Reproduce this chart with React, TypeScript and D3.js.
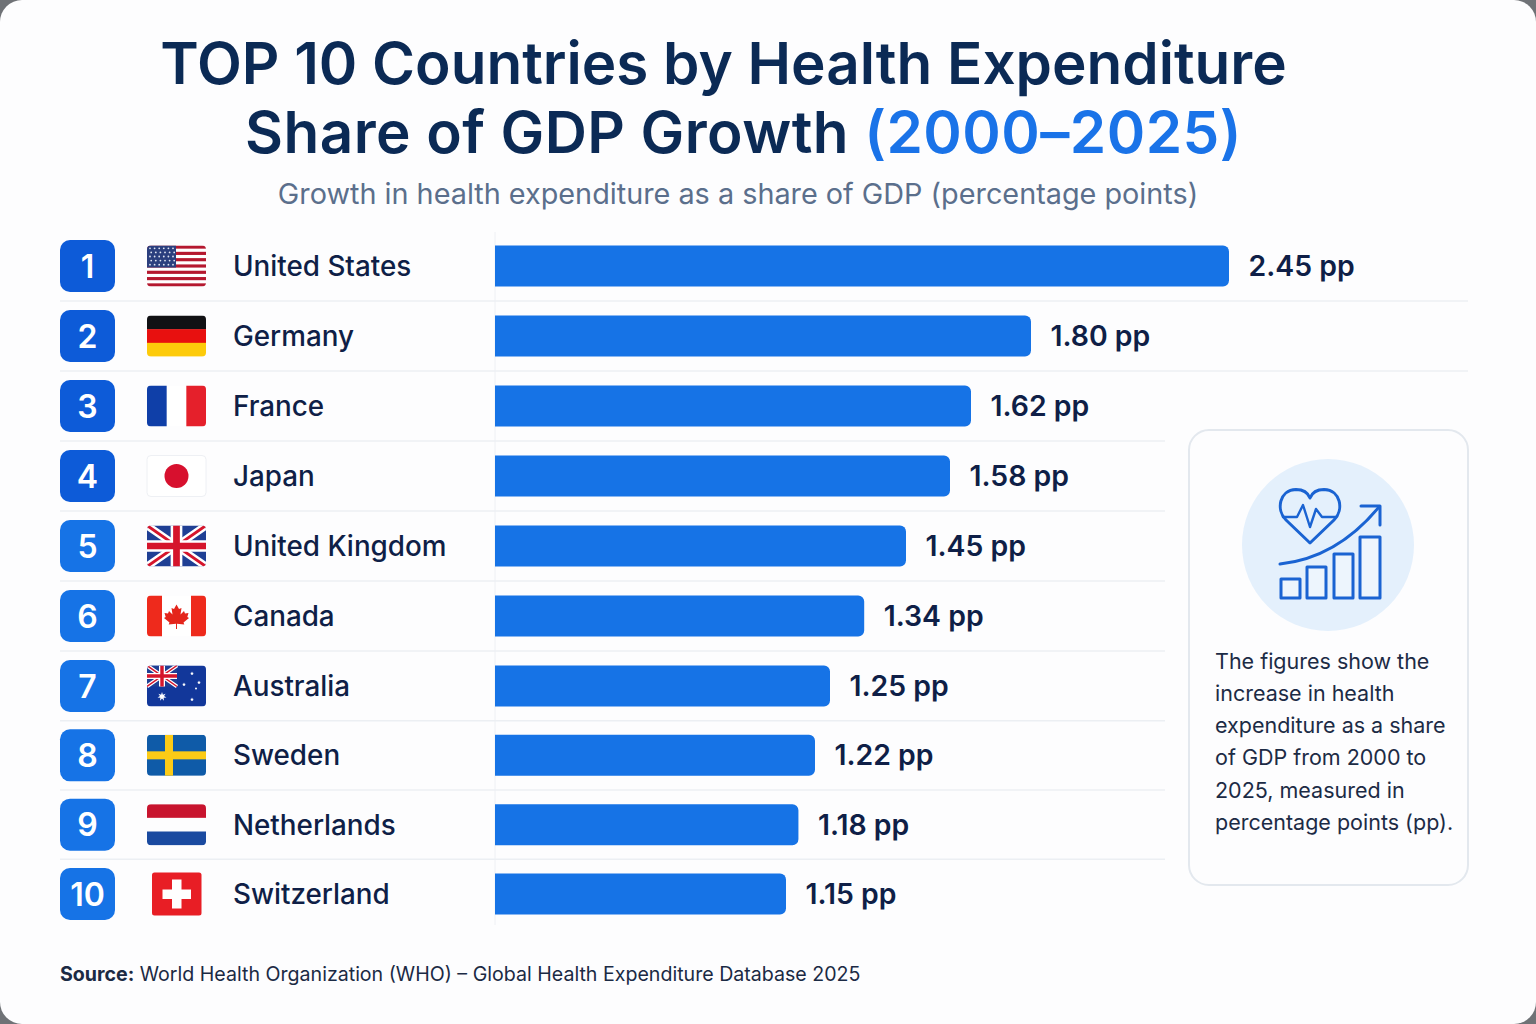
import React from 'react';
import * as d3 from 'd3';

const ranks = [1, 2, 3, 4, 5, 6, 7, 8, 9, 10];
const countries = ['United States', 'Germany', 'France', 'Japan', 'United Kingdom', 'Canada', 'Australia', 'Sweden', 'Netherlands', 'Switzerland'];
const growth = [2.45, 1.8, 1.62, 1.58, 1.45, 1.34, 1.25, 1.22, 1.18, 1.15];
const flagIds = ['us', 'de', 'fr', 'jp', 'uk', 'ca', 'au', 'se', 'nl', 'ch'];
const noteLines = [
  'The figures show the',
  'increase in health',
  'expenditure as a share',
  'of GDP from 2000 to',
  '2025, measured in',
  'percentage points (pp).',
];

const INK = '#0f1f47';
const BLUE = '#1673e6';
const FONT = 'Inter, "Noto Sans", sans-serif';

// the reference bars are not proportional to their labels, so the scale has knots
const x = d3
  .scaleLinear()
  .domain([0, 1.15, 1.22, 1.25, 1.45, 1.58, 1.62, 1.8, 2.45])
  .range([495, 786, 815, 830, 906, 950, 971, 1031, 1229]);
const y = d3.scaleLinear().domain([1, 7, 10]).range([266, 686, 894]);

const FW = 59;
const FH = 41;

const Star = ({ cx, cy, r, n = 5 }: { cx: number; cy: number; r: number; n?: number }) => {
  const pts = d3.range(n * 2).map((i) => {
    const a = (i * Math.PI) / n - Math.PI / 2;
    const rr = i % 2 ? r * 0.45 : r;
    return [cx + rr * Math.cos(a), cy + rr * Math.sin(a)].join(',');
  });
  return <polygon points={pts.join(' ')} fill="#fff" />;
};

// union jack drawn to w x h
const Union = ({ w, h }: { w: number; h: number }) => {
  const t = h / 7;
  return (
    <g>
      <rect width={w} height={h} fill="#1f3f94" />
      <path d={`M0,0L${w},${h}M${w},0L0,${h}`} stroke="#fff" strokeWidth={t * 1.3} />
      <path d={`M0,0L${w},${h}M${w},0L0,${h}`} stroke="#d5152c" strokeWidth={t * 0.5} />
      <path d={`M${w / 2},0V${h}M0,${h / 2}H${w}`} stroke="#fff" strokeWidth={t * 2} />
      <path d={`M${w / 2},0V${h}M0,${h / 2}H${w}`} stroke="#d5152c" strokeWidth={t * 1.15} />
    </g>
  );
};

const Bands = ({ colors }: { colors: string[] }) => (
  <g>
    {colors.map((c, i) => (
      <rect key={i} y={(i * FH) / colors.length} width={FW} height={FH / colors.length + 0.3} fill={c} />
    ))}
  </g>
);

const FlagArt = ({ id }: { id: string }) => {
  if (id === 'us') {
    return (
      <g>
        <rect width={FW} height={FH} fill="#fff" />
        {d3.range(0, 13, 2).map((i) => (
          <rect key={i} y={(i * FH) / 13} width={FW} height={FH / 13} fill="#b5182f" />
        ))}
        <rect width={29} height={22} fill="#2b3f7e" />
        {d3.range(5).map((r) =>
          d3.range(6).map((c) => <circle key={`${r}-${c}`} cx={3 + c * 4.6 + (r % 2) * 1.2} cy={2.8 + r * 4.1} r={0.9} fill="#dfe4f2" />),
        )}
      </g>
    );
  }
  if (id === 'de') return <Bands colors={['#111114', '#e8100f', '#fdcb0b']} />;
  if (id === 'nl') return <Bands colors={['#c8142e', '#fdfdfe', '#1a4aa0']} />;
  if (id === 'fr') {
    return (
      <g>
        <rect width={FW} height={FH} fill="#fff" />
        <rect width={FW / 3} height={FH} fill="#0f3fa8" />
        <rect x={(FW * 2) / 3} width={FW / 3} height={FH} fill="#e5202b" />
      </g>
    );
  }
  if (id === 'jp') {
    return (
      <g>
        <rect width={FW} height={FH} fill="#fff" />
        <circle cx={FW / 2} cy={FH / 2} r={12} fill="#d7102e" />
      </g>
    );
  }
  if (id === 'uk') return <Union w={FW} h={FH} />;
  if (id === 'ca') {
    return (
      <g>
        <rect width={FW} height={FH} fill="#fff" />
        <rect width={15} height={FH} fill="#ee2a1c" />
        <rect x={FW - 15} width={15} height={FH} fill="#ee2a1c" />
        <path
          d="M29.5,9 L32,13.5 L34.5,12.5 L33.5,19 L37,15.5 L38,18 L41.5,17.5 L40.3,21.5 L42,22.5 L36.5,27 L37.3,29 L30,28.3 L30,33.5 L29,33.5 L29,28.3 L21.7,29 L22.5,27 L17,22.5 L18.7,21.5 L17.5,17.5 L21,18 L22,15.5 L25.5,19 L24.5,12.5 L27,13.5 Z"
          fill="#e4251b"
        />
      </g>
    );
  }
  if (id === 'au') {
    return (
      <g>
        <rect width={FW} height={FH} fill="#12379a" />
        <Union w={30} h={21} />
        <Star cx={15} cy={31} r={4.6} n={7} />
        <Star cx={45} cy={8} r={2} />
        <Star cx={37} cy={19} r={2} />
        <Star cx={52} cy={17} r={2} />
        <Star cx={45} cy={34} r={2} />
        <circle cx={49} cy={23} r={1} fill="#fff" />
      </g>
    );
  }
  if (id === 'se') {
    return (
      <g>
        <rect width={FW} height={FH} fill="#0f5ba8" />
        <rect x={18} width={8} height={FH} fill="#fccb16" />
        <rect y={16.5} width={FW} height={8} fill="#fccb16" />
      </g>
    );
  }
  return null;
};

const Flag = ({ id, cy }: { id: string; cy: number }) => {
  if (id === 'ch') {
    return (
      <g transform={`translate(152,${cy - 21.5})`}>
        <rect width={49.5} height={43} rx={2.5} fill="#e81e25" />
        <rect x={20} y={7} width={9.5} height={29} fill="#fff" />
        <rect x={10.5} y={17} width={28.5} height={9.5} fill="#fff" />
      </g>
    );
  }
  return (
    <g transform={`translate(147,${cy - FH / 2})`}>
      <g clipPath="url(#flag-clip)">
        <FlagArt id={id} />
      </g>
      {id === 'jp' && <rect width={FW} height={FH} rx={4} fill="none" stroke="#eef0f4" />}
    </g>
  );
};

const barPath = (x1: number, top: number, h: number) => {
  const r = 6;
  const p = d3.path();
  p.moveTo(x(0), top);
  p.lineTo(x1 - r, top);
  p.arcTo(x1, top, x1, top + r, r);
  p.lineTo(x1, top + h - r);
  p.arcTo(x1, top + h, x1 - r, top + h, r);
  p.lineTo(x(0), top + h);
  p.closePath();
  return p.toString();
};

const HealthIcon = () => {
  const iconBlue = '#1a63d2';
  const bars: [number, number, number][] = [
    [1281, 579, 19],
    [1307, 567, 19],
    [1334, 554, 19],
    [1360, 537, 20],
  ];
  return (
    <g fill="none" stroke={iconBlue} strokeWidth={3} strokeLinejoin="round" strokeLinecap="round">
      <circle cx={1328} cy={545} r={86} fill="#e4f0fc" stroke="none" />
      {bars.map(([bx, by, bw]) => (
        <rect key={bx} x={bx} y={by} width={bw} height={598 - by} fill="#edf5fd" />
      ))}
      <path d="M1280,564 C1318,560 1350,542 1379,507" />
      <path d="M1361,506 H1380 V525" />
      <path d="M1310,543 L1286,520 C1276,510 1279,490 1296,489.5 C1303,489.5 1308,493 1310,498 C1312,493 1317,489.5 1324,489.5 C1341,490 1344,510 1334,520 Z" />
      <path d="M1283,517 H1297 L1303,505 L1310,527 L1316,509 L1322,517 H1336" strokeWidth={2.4} />
    </g>
  );
};

export default function App() {
  const sepY = ranks.slice(0, -1).map((r) => (y(r) + y(r + 1)) / 2);
  return (
    <svg width={1536} height={1024} style={{ position: 'absolute', top: 0, left: 0, display: 'block' }} fontFamily={FONT}>
      <defs>
        <clipPath id="flag-clip">
          <rect width={FW} height={FH} rx={4} />
        </clipPath>
      </defs>
      <rect width={1536} height={1024} fill="#6f7276" />
      <rect width={1536} height={1024} rx={22} fill="#fdfdfe" />

      <text x={723.5} y={84} textAnchor="middle" fontSize={58.4} fontWeight={600} fill="#0b2a55">
        TOP 10 Countries by Health Expenditure
      </text>
      <text x={743.5} y={153} textAnchor="middle" fontSize={58.4} fontWeight={600} letterSpacing={0.45} fill="#0b2a55">
        Share of GDP Growth <tspan fill="#1a73e8">(2000–2025)</tspan>
      </text>
      <text x={738} y={204} textAnchor="middle" fontSize={28.8} fill="#5b6f8c">
        Growth in health expenditure as a share of GDP (percentage points)
      </text>

      <line x1={495} x2={495} y1={232} y2={925} stroke="#eef0f4" />
      {sepY.map((sy, i) => (
        <line key={i} x1={60} x2={i < 2 ? 1468 : 1165} y1={sy} y2={sy} stroke="#eceff3" strokeWidth={1.5} />
      ))}

      {ranks.map((r, i) => {
        const cy = y(r);
        return (
          <g key={r}>
            <rect x={60} y={cy - 26} width={55} height={52} rx={10} fill={r < 5 ? '#0d5bd8' : BLUE} />
            <text x={87.5} y={cy + 11.5} textAnchor="middle" fontSize={32} fontWeight={600} fill="#fff">
              {r}
            </text>
            <Flag id={flagIds[i]} cy={cy} />
            <text x={233} y={cy + 10} fontSize={27.8} fontWeight={500} fill={INK}>
              {countries[i]}
            </text>
            <path d={barPath(x(growth[i]), cy - 20.5, 41)} fill={BLUE} />
            <text x={x(growth[i]) + 19.5} y={cy + 10} fontSize={28.4} fontWeight={600} fill={INK}>
              {growth[i].toFixed(2)} pp
            </text>
          </g>
        );
      })}

      <rect x={1189} y={430} width={279} height={455} rx={20} fill="#fdfdfe" stroke="#e3e8ee" strokeWidth={2} />
      <HealthIcon />
      {noteLines.map((line, i) => (
        <text key={i} x={1215} y={668.5 + i * 32.3} fontSize={21.5} fill="#1c2b45">
          {line}
        </text>
      ))}

      <text x={60} y={981} fontSize={19.6} fill="#1b2a44">
        <tspan fontWeight={700}>Source:</tspan> World Health Organization (WHO) – Global Health Expenditure Database 2025
      </text>
    </svg>
  );
}
